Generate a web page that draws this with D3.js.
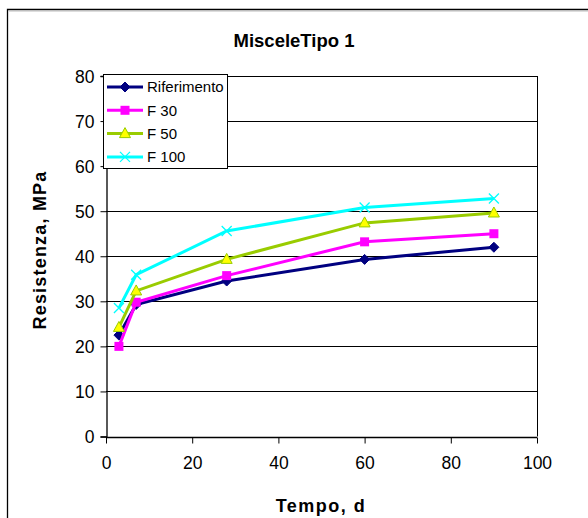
<!DOCTYPE html>
<html><head><meta charset="utf-8">
<script src="https://cdn.jsdelivr.net/npm/d3@7"></script>
<style>body{margin:0;background:#fff}svg{display:block;font-family:"Liberation Sans",Arial,sans-serif}</style>
</head><body>
<svg id="c" width="588" height="518"></svg>
<script>
const days = [3, 7, 28, 60, 90];
const riferimento = [22.5, 29.3, 34.5, 39.3, 42.0];
const f30 = [20.0, 29.8, 35.7, 43.2, 45.0];
const f50 = [24.2, 32.3, 39.3, 47.4, 49.6];
const f100 = [28.5, 35.9, 45.6, 50.8, 52.8];
const seriesNames = ["Riferimento", "F 30", "F 50", "F 100"];
const xTicks = [0, 20, 40, 60, 80, 100];
const yTicks = [0, 10, 20, 30, 40, 50, 60, 70, 80];

const series = [
  {name: seriesNames[0], values: riferimento, color: "#000080", marker: "diamond"},
  {name: seriesNames[1], values: f30, color: "#FF00FF", marker: "square"},
  {name: seriesNames[2], values: f50, color: "#99CC00", marker: "triangle"},
  {name: seriesNames[3], values: f100, color: "#00FFFF", marker: "x"}
];

const svg = d3.select("#c");
const L = 106, R = 537, T = 76, B = 436.5;
const x = d3.scaleLinear().domain([0, 100]).range([L, R]);
const y = d3.scaleLinear().domain([0, 80]).range([B, T]);

// outer frame
svg.append("path").attr("d", "M7.5,600 L7.5,9.5 L600,9.5").attr("fill", "none").attr("stroke", "#000").attr("stroke-width", 1.3);
svg.append("line").attr("x1", 9).attr("x2", 600).attr("y1", 11).attr("y2", 11).attr("stroke", "#bbb").attr("stroke-width", 1);

// title
svg.append("text").attr("x", 294).attr("y", 47).attr("text-anchor", "middle")
  .attr("font-size", 18.5).attr("font-weight", "bold").text("MisceleTipo 1");

// gridlines
svg.append("g").selectAll("line").data(yTicks.filter(v => v > 0)).join("line")
  .attr("x1", L).attr("x2", R).attr("y1", d => Math.round(y(d)) + 0.5).attr("y2", d => Math.round(y(d)) + 0.5)
  .attr("stroke", "#000").attr("stroke-width", 1);
// right border
svg.append("line").attr("x1", R + 0.5).attr("x2", R + 0.5).attr("y1", T).attr("y2", B).attr("stroke", "#000");

// axes
const yAxis = d3.axisLeft(y).tickValues(yTicks).tickSize(6).tickPadding(6);
const gy = svg.append("g").attr("transform", `translate(${L + 0.5},0)`).call(yAxis);
const xAxis = d3.axisBottom(x).tickValues(xTicks).tickSize(6).tickPadding(13);
const gx = svg.append("g").attr("transform", `translate(0,${Math.round(B) + 0.5})`).call(xAxis);
[gx, gy].forEach(g => {
  g.select(".domain").attr("stroke", "#000").attr("stroke-width", 1.3);
  g.selectAll(".tick line").attr("stroke", "#000");
  g.selectAll(".tick text").attr("font-size", 17.5).attr("fill", "#000").attr("font-family", '"Liberation Sans",Arial,sans-serif');
});
gx.select(".domain").attr("d", `M${L},0H${R}`);
gy.selectAll(".tick text").attr("dy", "0.36em");

// axis labels
svg.append("text").attr("x", 321).attr("y", 512).attr("text-anchor", "middle")
  .attr("font-size", 18).attr("font-weight", "bold").attr("letter-spacing", 1.5).text("Tempo, d");
svg.append("text").attr("transform", "translate(46,250) rotate(-90)").attr("text-anchor", "middle")
  .attr("font-size", 18).attr("font-weight", "bold").attr("letter-spacing", 1.2).text("Resistenza, MPa");

function drawMarker(g, type, color, cx, cy) {
  if (type === "diamond") {
    g.append("path").attr("d", `M${cx},${cy-5}L${cx+5},${cy}L${cx},${cy+5}L${cx-5},${cy}Z`).attr("fill", color).attr("stroke", color);
  } else if (type === "square") {
    g.append("rect").attr("x", cx - 4.5).attr("y", cy - 4.5).attr("width", 9).attr("height", 9).attr("fill", color);
  } else if (type === "triangle") {
    g.append("path").attr("d", `M${cx},${cy-6}L${cx+5.5},${cy+4}L${cx-5.5},${cy+4}Z`).attr("fill", "#FFFF00").attr("stroke", color).attr("stroke-width", 1);
  } else {
    g.append("path").attr("d", `M${cx-5},${cy-5}L${cx+5},${cy+5}M${cx-5},${cy+5}L${cx+5},${cy-5}`).attr("stroke", color).attr("stroke-width", 1.3);
  }
}

const line = d3.line().x(d => x(d[0])).y(d => y(d[1]));
series.forEach(s => {
  const pts = days.map((d, i) => [d, s.values[i]]);
  const g = svg.append("g");
  g.append("path").attr("d", line(pts)).attr("fill", "none").attr("stroke", s.color).attr("stroke-width", 3);
  pts.forEach(p => drawMarker(g, s.marker, s.color, x(p[0]), y(p[1])));
});

// legend
const lg = svg.append("g");
lg.append("rect").attr("x", 103.5).attr("y", 74.5).attr("width", 124).attr("height", 94).attr("fill", "#fff").attr("stroke", "#000").attr("stroke-width", 1);
series.forEach((s, i) => {
  const ly = 87 + i * 23.3;
  lg.append("line").attr("x1", 107).attr("x2", 143).attr("y1", ly).attr("y2", ly).attr("stroke", s.color).attr("stroke-width", 3);
  drawMarker(lg, s.marker, s.color, 125, ly);
  lg.append("text").attr("x", 147).attr("y", ly).attr("dy", "0.36em").attr("font-size", 15).text(s.name);
});
</script>
</body></html>
